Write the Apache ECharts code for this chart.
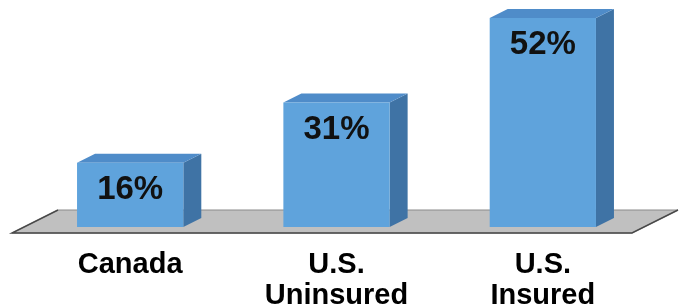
<!DOCTYPE html>
<html>
<head>
<meta charset="utf-8">
<script src="https://cdn.jsdelivr.net/npm/echarts@6/dist/echarts.min.js"></script>
<style>
  html, body { margin: 0; padding: 0; background: #fff; }
  #main { width: 679px; height: 307px; }
</style>
</head>
<body>
<div id="main"></div>
<script>
// data
var categories = ['Canada', 'U.S.\nUninsured', 'U.S.\nInsured'];
var shares = [16, 31, 52];

var FONT = '"Liberation Sans", Arial, sans-serif';
var DEPTH_X = 18, DEPTH_Y = 9;   // 3d offset of the bars

var myChart = echarts.init(document.getElementById('main'));

// gray floor under the bars
function renderFloor(params, api) {
  var cs = params.coordSys;
  var zeroY = api.coord([0, 0])[1];
  var fl = cs.x - 15, fr = cs.x + cs.width - 14;
  var yf = zeroY + 6, yb = zeroY - 17;
  var shift = 46;
  return {
    type: 'group',
    children: [{
      type: 'polygon',
      shape: { points: [[fl, yf], [fr, yf], [fr + shift, yb], [fl + shift, yb]] },
      style: { fill: '#c0c0c0', stroke: '#8a8a8a', lineWidth: 1 }
    }, {
      type: 'polyline',
      shape: { points: [[fl + shift, yb], [fl, yf], [fr, yf], [fr + shift, yb]] },
      style: { fill: null, stroke: '#4a4a4a', lineWidth: 1.5 }
    }]
  };
}

// 3d box bars
function renderBar(params, api) {
  var idx = api.value(0);
  var val = api.value(1);
  var top = api.coord([idx, val]);
  var base = api.coord([idx, 0]);
  var w = api.size([1, 0])[0] * 0.515;
  var x0 = top[0] - w / 2, x1 = top[0] + w / 2;
  var yt = top[1], yb = base[1];
  return {
    type: 'group',
    children: [{
      type: 'polygon',
      shape: { points: [[x1, yt], [x1 + DEPTH_X, yt - DEPTH_Y], [x1 + DEPTH_X, yb - DEPTH_Y], [x1, yb]] },
      style: { fill: '#3f73a5' }
    }, {
      type: 'polygon',
      shape: { points: [[x0, yt], [x1, yt], [x1 + DEPTH_X, yt - DEPTH_Y], [x0 + DEPTH_X, yt - DEPTH_Y]] },
      style: { fill: '#4f8cc9' }
    }, {
      type: 'rect',
      shape: { x: x0, y: yt, width: w, height: yb - yt },
      style: { fill: '#5fa3dc' }
    }, {
      type: 'text',
      x: top[0], y: yt + 27,
      style: {
        text: val + '%', fill: '#111',
        font: 'bold 33px ' + FONT,
        align: 'center', verticalAlign: 'middle'
      }
    }]
  };
}

var option = {
  animation: false,
  backgroundColor: '#fff',
  grid: { left: 27, right: 33, top: 6, bottom: 80, containLabel: false, outerBoundsMode: 'none' },
  xAxis: {
    type: 'category',
    data: categories,
    axisLine: { show: false },
    axisTick: { show: false },
    axisLabel: {
      interval: 0,
      margin: 22,
      color: '#000',
      fontFamily: FONT,
      fontWeight: 'bold',
      fontSize: 29,
      lineHeight: 31
    }
  },
  yAxis: {
    type: 'value',
    min: 0, max: 55,
    show: false,
    splitLine: { show: false }
  },
  series: [{
    type: 'custom',
    z: 1,
    renderItem: renderFloor,
    data: [[0, 0]]
  }, {
    type: 'custom',
    z: 2,
    renderItem: renderBar,
    data: shares.map(function (v, i) { return [i, v]; })
  }]
};
myChart.setOption(option);

window.onresize = function () {
  myChart.resize();
};
</script>
</body>
</html>
